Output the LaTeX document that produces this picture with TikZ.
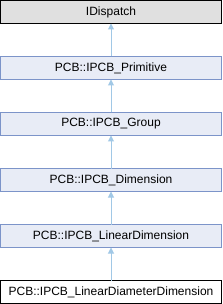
\documentclass[tikz,border=0pt]{standalone}
\usepackage{fontspec}
\setmainfont{Liberation Sans}
\usepackage{xcolor}
\usetikzlibrary{arrows.meta,positioning}
\definecolor{basefill}{HTML}{E0E0E0}
\definecolor{classfill}{HTML}{E8ECF6}
\definecolor{classline}{HTML}{7C94C9}
\definecolor{edgeblue}{HTML}{A1C8E6}
\begin{document}
\begin{tikzpicture}[
  x=1pt,y=1pt,
  box/.style={draw=classline,fill=classfill,line width=1pt,minimum width=221pt,minimum height=23pt,inner sep=0pt,outer sep=0pt,align=center,font=\fontsize{12}{14}\selectfont},
  rootbox/.style={box,draw=black,fill=basefill},
  leafbox/.style={box,draw=black,fill=white},
  arrow/.style={-{Triangle[length=6pt,width=6pt]},draw=edgeblue,fill=edgeblue,line width=1pt},
  node distance=33pt
]
\useasboundingbox (0,0) rectangle (222,-304);
\node[rootbox] (disp) at (111,-12) {IDispatch};
\node[box,below=of disp] (prim) {PCB::IPCB\_Primitive};
\node[box,below=of prim] (group) {PCB::IPCB\_Group};
\node[box,below=of group] (dim) {PCB::IPCB\_Dimension};
\node[box,below=of dim] (lin) {PCB::IPCB\_LinearDimension};
\node[leafbox,below=of lin] (diam) {PCB::IPCB\_LinearDiameterDimension};
\draw[arrow] (prim) -- (disp);
\draw[arrow] (group) -- (prim);
\draw[arrow] (dim) -- (group);
\draw[arrow] (lin) -- (dim);
\draw[arrow] (diam) -- (lin);
\end{tikzpicture}
\end{document}
